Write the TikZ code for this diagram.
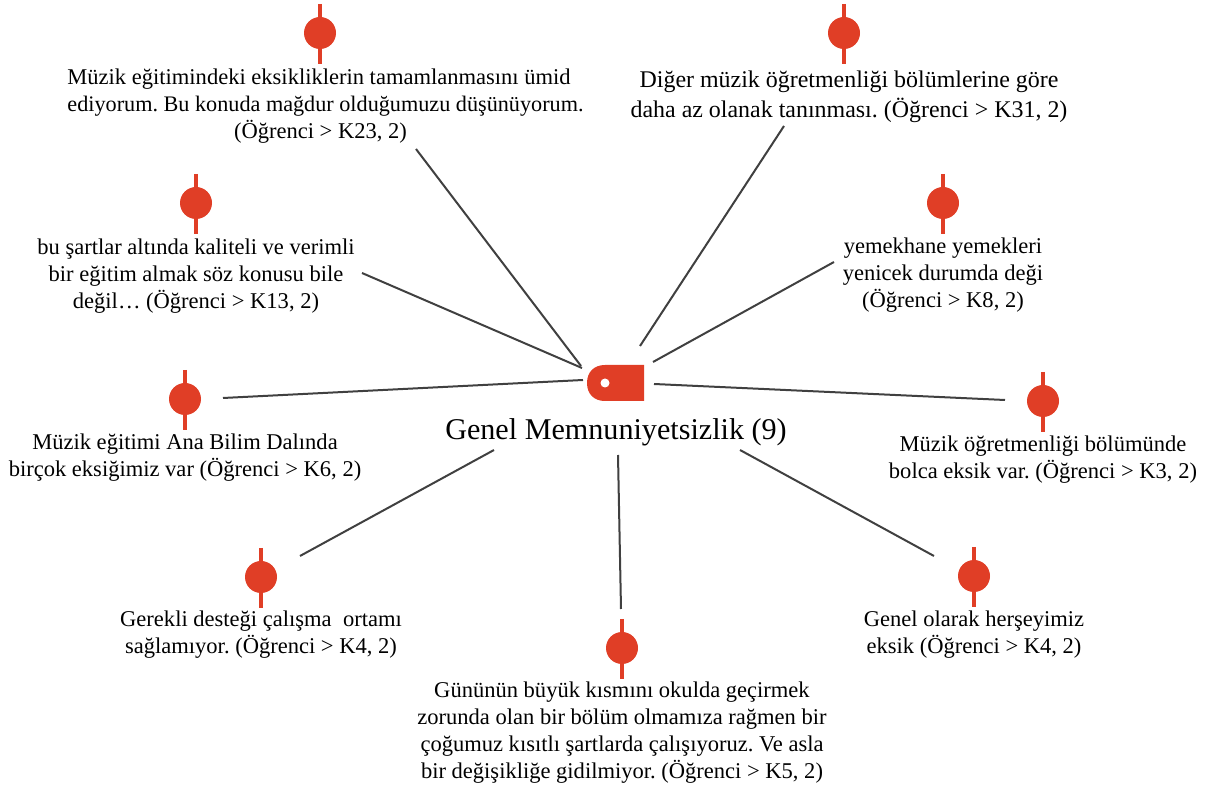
\documentclass[tikz,border=0pt]{standalone}
\usepackage{fontspec}
\setmainfont{Liberation Serif}
\frenchspacing
\definecolor{mred}{HTML}{E03E26}
\definecolor{lnk}{HTML}{404040}
\tikzset{
 x=0.75pt,y=-0.75pt,
 link/.style={draw=lnk,line width=1.5pt},
 txt/.style={inner sep=0pt,align=center,text=black,anchor=center},
 small/.style={txt,font=\fontsize{16.9pt}{20.3pt}\selectfont\frenchspacing},
 mid/.style={txt,font=\fontsize{17.95pt}{22.5pt}\selectfont\frenchspacing},
 big/.style={txt,font=\fontsize{22.6pt}{26pt}\selectfont},
 dotm/.style={circle,fill=mred,inner sep=0pt,minimum size=24pt},
 stem/.style={draw=mred,line width=3pt},
}
\newcommand{\marker}[3]{%
 \draw[stem] (#2,#3-29) -- (#2,#3+31);
 \node[dotm] (#1) at (#2,#3) {};
}
\begin{document}
\begin{tikzpicture}
\useasboundingbox (0,0) rectangle (1208,787);
% hub
\fill[mred] (644,365) -- (644,401) -- (605,401)
  .. controls (594,401) and (587,394) .. (587,383) .. controls (587,372) and (594,365) .. (605,365) -- cycle;
\fill[white] (605,383) circle[radius=4.5];
\node[big] (main) at (616,432) {Genel Memnuniyetsizlik (9)};
% markers
\marker{m1}{320}{33}
\marker{m2}{844}{33}
\marker{m3}{196}{203}
\marker{m4}{943}{203}
\marker{m5}{185}{399}
\marker{m6}{1043}{401}
\marker{m7}{261}{577}
\marker{m8}{974}{576}
\marker{m9}{622}{648}
% labels
\node[small] (t1) at (325.5,106.5) {Müzik eğitimindeki eksikliklerin tamamlanmasını ümid\kern9.75pt\\{\fontsize{16.65pt}{20.3pt}\selectfont ediyorum. Bu konuda mağdur olduğumuzu düşünüyorum.}\\(Öğrenci > K23, 2)\kern7.5pt};
\node[mid] (t2) at (849,96.5) {Diğer müzik öğretmenliği bölümlerine göre\\daha az olanak tanınması. (Öğrenci > K31, 2)};
\node[small] (t3) at (196,276) {bu şartlar altında kaliteli ve verimli\\bir eğitim almak söz konusu bile\\değil… (Öğrenci > K13, 2)};
\node[small] (t4) at (943,275) {yemekhane yemekleri\\yenicek durumda deği\\(Öğrenci > K8, 2)};
\node[small] (t5) at (185,458) {Müzik eğitimi Ana Bilim Dalında\\birçok eksiğimiz var (Öğrenci > K6, 2)};
\node[small] (t6) at (1043,460) {Müzik öğretmenliği bölümünde\\bolca eksik var. (Öğrenci > K3, 2)};
\node[small] (t7) at (261,635) {Gerekli desteği çalışma~ ortamı\\sağlamıyor. (Öğrenci > K4, 2)};
\node[small] (t8) at (974,635) {Genel olarak herşeyimiz\\eksik (Öğrenci > K4, 2)};
\node[small] (t9) at (622,733) {Gününün büyük kısmını okulda geçirmek\\zorunda olan bir bölüm olmamıza rağmen bir\\çoğumuz kısıtlı şartlarda çalışıyoruz. Ve asla\\bir değişikliğe gidilmiyor. (Öğrenci > K5, 2)};
% connector ends
\foreach \n/\ax/\ay/\bx/\by in {
 1/416/149/581/366, 2/784/126/640/346, 3/362/273/582/368, 4/834/262/653/362,
 5/223/398/583/380, 6/1005/400/654/384, 7/300/556/494/450, 8/621/609/618/455, 9/934/556/740/450}{
 \coordinate (a\n) at (\ax,\ay);
 \coordinate (b\n) at (\bx,\by);
 \draw[link] (a\n) -- (b\n);
}
\end{tikzpicture}
\end{document}
